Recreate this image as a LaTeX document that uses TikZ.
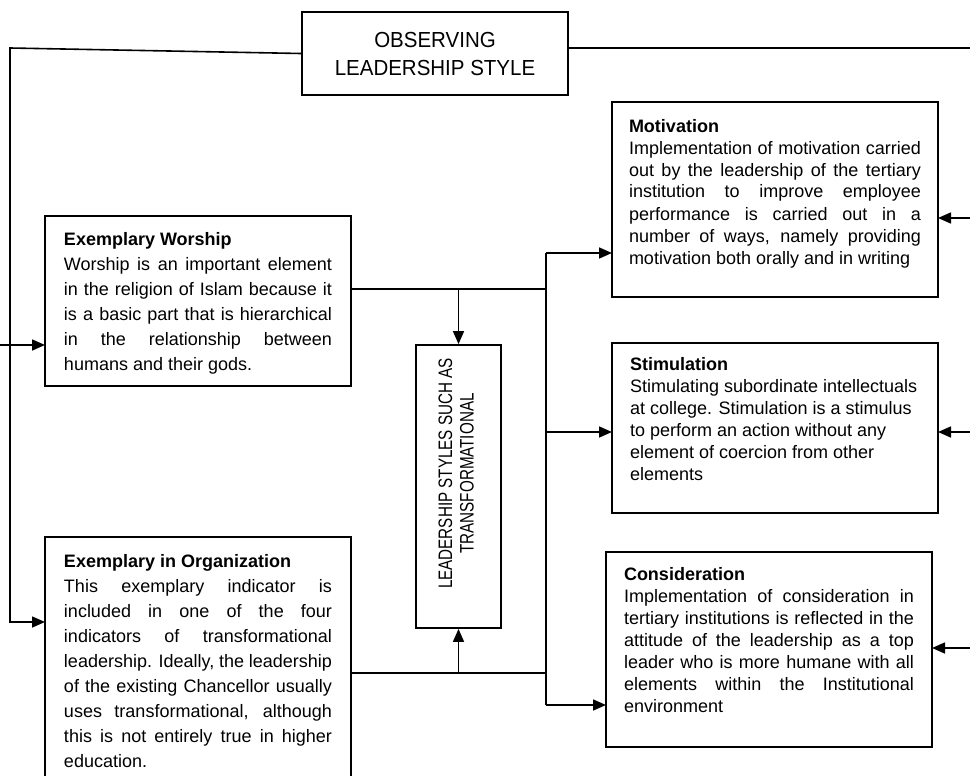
\documentclass[tikz,border=0pt]{standalone}
\usepackage{fontspec}
\setmainfont{Liberation Sans}
\newfontfamily\narrowfont{Liberation Sans}[FakeStretch=0.78]
\newfontfamily\topfont{Liberation Sans}[FakeStretch=0.94]
\usetikzlibrary{arrows.meta}
\tikzset{
  boxnode/.style={draw, line width=1.8pt, anchor=north west, inner sep=0pt, outer sep=0pt},
  conn/.style={line width=1.6pt},
  arr/.style={line width=1.6pt, -{Triangle[length=13pt,width=11pt]}},
}
% #1 side pad, #2 text width, #3 box height, #4 baselineskip, #5 first baseline, #6 text
\newcommand{\bx}[6]{\hspace*{#1}\parbox[t][#3][t]{#2}{\parindent=0pt\tolerance=9999\hbadness=10000\hfuzz=20pt\fontsize{18pt}{#4}\selectfont\rule{0pt}{#5}#6}\hspace*{#1}}
\begin{document}
\begin{tikzpicture}[x=1pt,y=-1pt]
\useasboundingbox (0,0) rectangle (970,776);
\clip (0,0) rectangle (970,776);

\node[draw, line width=1.8pt, minimum width=266pt, minimum height=83pt, inner sep=0pt, align=center, font=\topfont\fontsize{21.8pt}{28pt}\selectfont] (obs) at (435,53.5) {OBSERVING\\LEADERSHIP STYLE};

\node[boxnode] (wor) at (45,216) {\bx{19pt}{268pt}{170pt}{25pt}{29pt}{\textbf{Exemplary Worship}\par
Worship is an important element\linebreak
in the religion of Islam because it\linebreak
is a basic part that is hierarchical\linebreak
in the relationship between\linebreak
humans and their gods.}};

\node[boxnode] (org) at (45,537) {\bx{19pt}{268pt}{262pt}{25pt}{30pt}{\textbf{Exemplary in Organization}\par
This exemplary indicator is\linebreak
included in one of the four\linebreak
indicators of transformational\linebreak
leadership. Ideally, the leadership\linebreak
of the existing Chancellor usually\linebreak
uses transformational, although\linebreak
this is not entirely true in higher\linebreak
education.}};

\node[boxnode] (mot) at (612,102) {\bx{17pt}{292pt}{195pt}{22pt}{30pt}{\textbf{Motivation}\par
Implementation of motivation carried\linebreak
out by the leadership of the tertiary\linebreak
institution to improve employee\linebreak
performance is carried out in a\linebreak
number of ways, namely providing\linebreak
motivation both orally and in writing}};

\node[boxnode] (sti) at (612,343) {\bx{18pt}{290pt}{170pt}{22pt}{27pt}{\raggedright\textbf{Stimulation}\par
Stimulating subordinate intellectuals\\
at college. Stimulation is a stimulus\\
to perform an action without any\\
element of coercion from other\\
elements}};

\node[boxnode] (con) at (606,552) {\bx{18pt}{290pt}{195pt}{22pt}{28pt}{\textbf{Consideration}\par
Implementation of consideration in\linebreak
tertiary institutions is reflected in the\linebreak
attitude of the leadership as a top\linebreak
leader who is more humane with all\linebreak
elements within the Institutional\linebreak
environment}};

\node[draw, line width=1.8pt, rotate=90, minimum width=283pt, minimum height=85pt, inner sep=0pt] (lead) at (458.5,486.5) {\narrowfont\fontsize{19.5pt}{21.5pt}\selectfont\hspace*{26pt}\begin{tabular}{@{}c@{}}LEADERSHIP STYLES SUCH AS\\TRANSFORMATIONAL\end{tabular}};

% coordinates for free ends and junctions
\coordinate (tl) at (10,48);
\coordinate (bl) at (10,622);
\coordinate (rT) at (970,48);
\coordinate (lW) at (0,345);
\coordinate (rM) at (970,218);
\coordinate (rS) at (970,432);
\coordinate (rC) at (970,648);
\coordinate (jW) at (546,289);
\coordinate (jO) at (546,673);
\coordinate (bT) at (546,253);
\coordinate (bS) at (546,432);
\coordinate (bB) at (546,705);

\draw[arr] (obs.west) -- (tl) -- (bl) -- (bl -| org.west);
\draw[conn] (obs.east |- rT) -- (rT);
\draw[arr] (lW) -- (lW -| wor.west);
\draw[arr] (rM) -- (rM -| mot.east);
\draw[arr] (rS) -- (rS -| sti.east);
\draw[arr] (rC) -- (rC -| con.east);

\draw[conn] (jW -| wor.east) -- (jW);
\draw[arr] (lead.east |- jW) -- (lead.east);
\draw[conn] (jO -| org.east) -- (jO);
\draw[arr] (lead.west |- jO) -- (lead.west);

\draw[conn] (bT) -- (bB);
\draw[arr] (bT) -- (bT -| mot.west);
\draw[arr] (bS) -- (bS -| sti.west);
\draw[arr] (bB) -- (bB -| con.west);
\end{tikzpicture}
\end{document}
